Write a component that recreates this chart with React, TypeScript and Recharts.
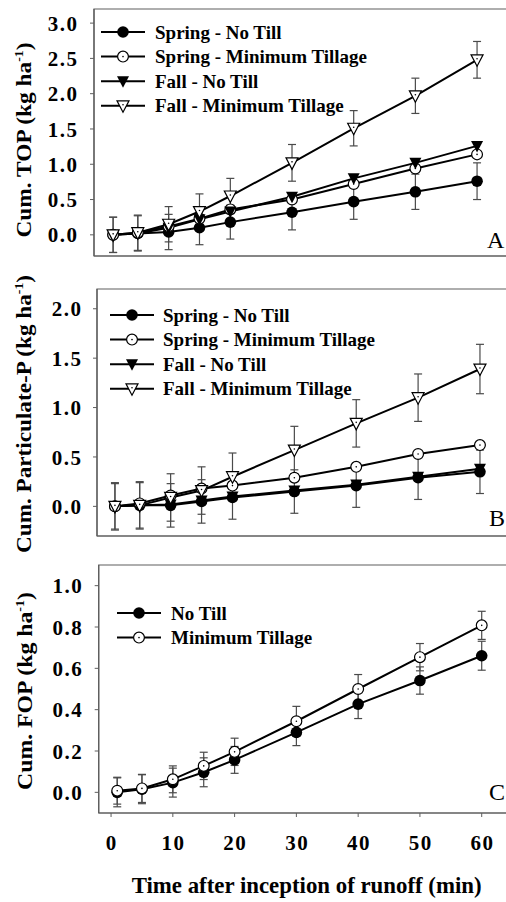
import React from 'react';
import { LineChart, Line, XAxis, YAxis, ErrorBar, ReferenceArea } from 'recharts';

const time = [1, 5, 10, 15, 20, 30, 40, 50, 60];
const xTicks = [0, 10, 20, 30, 40, 50, 60];

// panel A - cumulative TOP
const topSpringNT = [0, 0.02, 0.04, 0.1, 0.18, 0.32, 0.47, 0.61, 0.76];
const topSpringNTErr = [0.25, 0.25, 0.25, 0.24, 0.24, 0.25, 0.25, 0.25, 0.26];
const topSpringMT = [0, 0.03, 0.12, 0.23, 0.36, 0.5, 0.72, 0.94, 1.14];
const topFallNT = [0, 0.02, 0.1, 0.22, 0.33, 0.54, 0.8, 1.02, 1.26];
const topFallMT = [0, 0.03, 0.15, 0.33, 0.55, 1.02, 1.51, 1.97, 2.48];
const topFallMTErr = [0.25, 0.25, 0.25, 0.25, 0.25, 0.26, 0.25, 0.25, 0.26];
const topTicks = [0, 0.5, 1, 1.5, 2, 2.5, 3];

// panel B - cumulative particulate P
const ppSpringNT = [0, 0.01, 0.01, 0.05, 0.09, 0.15, 0.21, 0.29, 0.35];
const ppSpringNTErr = [0.23, 0.23, 0.22, 0.22, 0.22, 0.22, 0.22, 0.22, 0.22];
const ppSpringMT = [0, 0.03, 0.11, 0.18, 0.21, 0.29, 0.4, 0.53, 0.62];
const ppFallNT = [0, 0.01, 0.02, 0.06, 0.1, 0.16, 0.22, 0.3, 0.38];
const ppFallMT = [0, 0.01, 0.09, 0.16, 0.3, 0.57, 0.84, 1.1, 1.39];
const ppFallMTErr = [0.24, 0.24, 0.24, 0.24, 0.24, 0.24, 0.24, 0.24, 0.25];
const ppTicks = [0, 0.5, 1, 1.5, 2];

// panel C - cumulative FOP
const fopNT = [0, 0.015, 0.047, 0.097, 0.157, 0.29, 0.427, 0.541, 0.661];
const fopNTErr = [0.07, 0.07, 0.07, 0.07, 0.065, 0.064, 0.07, 0.066, 0.07];
const fopMT = [0.008, 0.019, 0.063, 0.128, 0.196, 0.344, 0.5, 0.654, 0.808];
const fopMTErr = [0.065, 0.068, 0.065, 0.066, 0.066, 0.072, 0.07, 0.066, 0.068];
const fopTicks = [0, 0.2, 0.4, 0.6, 0.8, 1];

const seasonLabels = ['Spring - No Till', 'Spring - Minimum Tillage', 'Fall - No Till', 'Fall - Minimum Tillage'];
const tillLabels = ['No Till', 'Minimum Tillage'];

const dataA = time.map((t, i) => ({
  t, sNT: topSpringNT[i], sNTe: topSpringNTErr[i], sMT: topSpringMT[i],
  fNT: topFallNT[i], fMT: topFallMT[i], fMTe: topFallMTErr[i],
}));
const dataB = time.map((t, i) => ({
  t, sNT: ppSpringNT[i], sNTe: ppSpringNTErr[i], sMT: ppSpringMT[i],
  fNT: ppFallNT[i], fMT: ppFallMT[i], fMTe: ppFallMTErr[i],
}));
const dataC = time.map((t, i) => ({
  t, nt: fopNT[i], nte: fopNTErr[i], mt: fopMT[i], mte: fopMTErr[i],
}));

const FONT = '"Liberation Serif", "Times New Roman", serif';
const FRAME = '#5e5e5e';
const ERR = '#4a4a4a';

type Kind = 'fc' | 'oc' | 'ft' | 'ot';

const Marker = ({ kind, cx, cy }: { kind: Kind; cx: number; cy: number }) => {
  if (cx == null || cy == null) return null;
  if (kind === 'fc') return <circle cx={cx} cy={cy} r={5.8} fill="#000" />;
  if (kind === 'oc')
    return (
      <g>
        <circle cx={cx} cy={cy} r={5.4} fill="#fff" stroke="#000" strokeWidth={1.2} />
        <circle cx={cx} cy={cy} r={0.8} fill="#000" />
      </g>
    );
  const pts = `${cx - 6},${cy - 5} ${cx + 6},${cy - 5} ${cx},${cy + 6.5}`;
  if (kind === 'ft') return <polygon points={pts} fill="#000" />;
  return (
    <g>
      <polygon points={pts} fill="#fff" stroke="#000" strokeWidth={1.2} strokeLinejoin="miter" />
      <circle cx={cx} cy={cy - 1} r={0.8} fill="#000" />
    </g>
  );
};

const dotOf = (kind: Kind) => (p: any) => <Marker key={`${kind}-${p.index}`} kind={kind} cx={p.cx} cy={p.cy} />;

const tickFont = { fontFamily: FONT, fontWeight: 'bold' as const, fontSize: 21, letterSpacing: 1.5 };

const YTick = (p: any) => (
  <text x={p.x} y={p.y} dy="0.36em" textAnchor="end" fill="#000" style={tickFont}>
    {Number(p.payload.value).toFixed(1)}
  </text>
);

const XTick = (p: any) => (
  <text x={p.x + 0.75} y={p.y} dy="0.71em" textAnchor="middle" fill="#000" style={tickFont}>
    {p.payload.value}
  </text>
);

// rotated axis title with kg ha^-1 unit, stretched to the length seen in the figure
const yTitle = (main: string, cx: number, cy: number, len: number) => () => (
  <text
    x={cx}
    y={cy}
    transform={`rotate(-90 ${cx} ${cy})`}
    textAnchor="middle"
    textLength={len}
    lengthAdjust="spacingAndGlyphs"
    style={{ fontFamily: FONT, fontWeight: 'bold', fontSize: 22 }}
    fill="#000"
  >
    {main} (kg ha<tspan dy={-8} style={{ fontSize: 13 }}>-1</tspan>
    <tspan dy={8}>)</tspan>
  </text>
);

const Legend = ({ labels, kinds, top, lineX, textX }: { labels: string[]; kinds: Kind[]; top: number; lineX: number; textX: number }) => (
  <svg width={506} height={140} style={{ position: 'absolute', left: 0, top: top - 20, pointerEvents: 'none' }}>
    {labels.map((l, i) => {
      const y = 20 + i * 24.6;
      return (
        <g key={l}>
          <line x1={lineX} x2={lineX + 44} y1={y} y2={y} stroke="#000" strokeWidth={2} />
          <Marker kind={kinds[i]} cx={lineX + 22} cy={y} />
          <text x={textX} y={y + 6.5} style={{ fontFamily: FONT, fontWeight: 'bold', fontSize: 19 }} fill="#000">
            {l}
          </text>
        </g>
      );
    })}
  </svg>
);

const PanelTag = ({ text, left, top }: { text: string; left: number; top: number }) => (
  <div style={{ position: 'absolute', left, top, fontFamily: FONT, fontWeight: 'normal', fontSize: 24, lineHeight: '24px' }}>{text}</div>
);

const CW = 530;

const App: React.FC = () => {
  const seasonKinds: Kind[] = ['fc', 'oc', 'ft', 'ot'];
  return (
    <div style={{ position: 'absolute', left: 0, top: 0, width: 506, height: 902, overflow: 'hidden', background: '#fff', fontFamily: FONT }}>
      <style>{`.recharts-surface{overflow:visible}`}</style>
      {/* A */}
      <div style={{ position: 'absolute', left: 0, top: 0 }}>
        <LineChart width={CW} height={268} data={dataA} margin={{ top: 9, right: CW - 507.9, left: 0, bottom: 0 }}>
          <ReferenceArea x1={-2.1} x2={65} y1={-0.3} y2={3.2} fill="none" stroke={FRAME} strokeWidth={1.2} ifOverflow="visible" />
          <XAxis type="number" dataKey="t" domain={[-2.1, 65]} ticks={xTicks} allowDataOverflow tick={false} tickSize={4} height={12} axisLine={{ stroke: FRAME, strokeWidth: 1.2 }} tickLine={{ stroke: FRAME }} />
          <YAxis type="number" domain={[-0.3, 3.2]} ticks={topTicks} allowDataOverflow width={94} tickSize={4} tickMargin={11.5} tick={YTick} axisLine={{ stroke: FRAME, strokeWidth: 1.2 }} tickLine={{ stroke: FRAME }} label={{ content: yTitle('Cum. TOP', 31, 140, 195) }} />
          <Line type="linear" dataKey="sNT" stroke="#000" strokeWidth={2} dot={dotOf('fc')} activeDot={false} isAnimationActive={false}>
            <ErrorBar dataKey="sNTe" direction="y" width={4} stroke={ERR} strokeWidth={1.2} />
          </Line>
          <Line type="linear" dataKey="sMT" stroke="#000" strokeWidth={2} dot={dotOf('oc')} activeDot={false} isAnimationActive={false} />
          <Line type="linear" dataKey="fNT" stroke="#000" strokeWidth={2} dot={dotOf('ft')} activeDot={false} isAnimationActive={false} />
          <Line type="linear" dataKey="fMT" stroke="#000" strokeWidth={2} dot={dotOf('ot')} activeDot={false} isAnimationActive={false}>
            <ErrorBar dataKey="fMTe" direction="y" width={4} stroke={ERR} strokeWidth={1.2} />
          </Line>
        </LineChart>
        <Legend labels={seasonLabels} kinds={seasonKinds} top={32} lineX={101} textX={155} />
        <PanelTag text="A" left={487} top={228} />
      </div>

      {/* B */}
      <div style={{ position: 'absolute', left: 0, top: 280 }}>
        <LineChart width={CW} height={268} data={dataB} margin={{ top: 9, right: CW - 510.9, left: 0, bottom: 0 }}>
          <ReferenceArea x1={-1.9} x2={65} y1={-0.3} y2={2.2} fill="none" stroke={FRAME} strokeWidth={1.2} ifOverflow="visible" />
          <XAxis type="number" dataKey="t" domain={[-1.9, 65]} ticks={xTicks} allowDataOverflow tick={false} tickSize={4} height={12} axisLine={{ stroke: FRAME, strokeWidth: 1.2 }} tickLine={{ stroke: FRAME }} />
          <YAxis type="number" domain={[-0.3, 2.2]} ticks={ppTicks} allowDataOverflow width={97} tickSize={4} tickMargin={10.5} tick={YTick} axisLine={{ stroke: FRAME, strokeWidth: 1.2 }} tickLine={{ stroke: FRAME }} label={{ content: yTitle('Cum. Particulate-P', 31, 134, 278) }} />
          <Line type="linear" dataKey="sNT" stroke="#000" strokeWidth={2} dot={dotOf('fc')} activeDot={false} isAnimationActive={false}>
            <ErrorBar dataKey="sNTe" direction="y" width={4} stroke={ERR} strokeWidth={1.2} />
          </Line>
          <Line type="linear" dataKey="sMT" stroke="#000" strokeWidth={2} dot={dotOf('oc')} activeDot={false} isAnimationActive={false} />
          <Line type="linear" dataKey="fNT" stroke="#000" strokeWidth={2} dot={dotOf('ft')} activeDot={false} isAnimationActive={false} />
          <Line type="linear" dataKey="fMT" stroke="#000" strokeWidth={2} dot={dotOf('ot')} activeDot={false} isAnimationActive={false}>
            <ErrorBar dataKey="fMTe" direction="y" width={4} stroke={ERR} strokeWidth={1.2} />
          </Line>
        </LineChart>
        <Legend labels={seasonLabels} kinds={seasonKinds} top={35} lineX={110} textX={163} />
        <PanelTag text="B" left={489} top={226} />
      </div>

      {/* C */}
      <div style={{ position: 'absolute', left: 0, top: 556 }}>
        <LineChart width={CW} height={346} data={dataC} margin={{ top: 9, right: CW - 512.6, left: 0, bottom: 0 }}>
          <ReferenceArea x1={-2} x2={65} y1={-0.1} y2={1.1} fill="none" stroke={FRAME} strokeWidth={1.2} ifOverflow="visible" />
          <XAxis
            type="number"
            dataKey="t"
            domain={[-2, 65]}
            ticks={xTicks}
            allowDataOverflow
            tick={XTick}
            tickSize={4}
            tickMargin={18}
            height={89}
            axisLine={{ stroke: FRAME, strokeWidth: 1.2 }}
            tickLine={{ stroke: FRAME }}
            label={{
              content: (p: any) => {
                const vb = p.viewBox || {};
                return (
                  <text x={vb.x + vb.width / 2 + 1} y={vb.y + 80} textAnchor="middle" textLength={350} lengthAdjust="spacingAndGlyphs" style={{ fontFamily: FONT, fontWeight: 'bold', fontSize: 23 }} fill="#000">
                    Time after inception of runoff (min)
                  </text>
                );
              },
            }}
          />
          <YAxis type="number" domain={[-0.1, 1.1]} ticks={fopTicks} allowDataOverflow width={98.7} tickSize={4} tickMargin={11.5} tick={YTick} axisLine={{ stroke: FRAME, strokeWidth: 1.2 }} tickLine={{ stroke: FRAME }} label={{ content: yTitle('Cum. FOP', 32, 135, 198) }} />
          <Line type="linear" dataKey="nt" stroke="#000" strokeWidth={2} dot={dotOf('fc')} activeDot={false} isAnimationActive={false}>
            <ErrorBar dataKey="nte" direction="y" width={4} stroke={ERR} strokeWidth={1.2} />
          </Line>
          <Line type="linear" dataKey="mt" stroke="#000" strokeWidth={2} dot={dotOf('oc')} activeDot={false} isAnimationActive={false}>
            <ErrorBar dataKey="mte" direction="y" width={4} stroke={ERR} strokeWidth={1.2} />
          </Line>
        </LineChart>
        <Legend labels={tillLabels} kinds={['fc', 'oc']} top={57} lineX={117} textX={171} />
        <PanelTag text="C" left={489} top={224} />
      </div>
    </div>
  );
};

export default App;
